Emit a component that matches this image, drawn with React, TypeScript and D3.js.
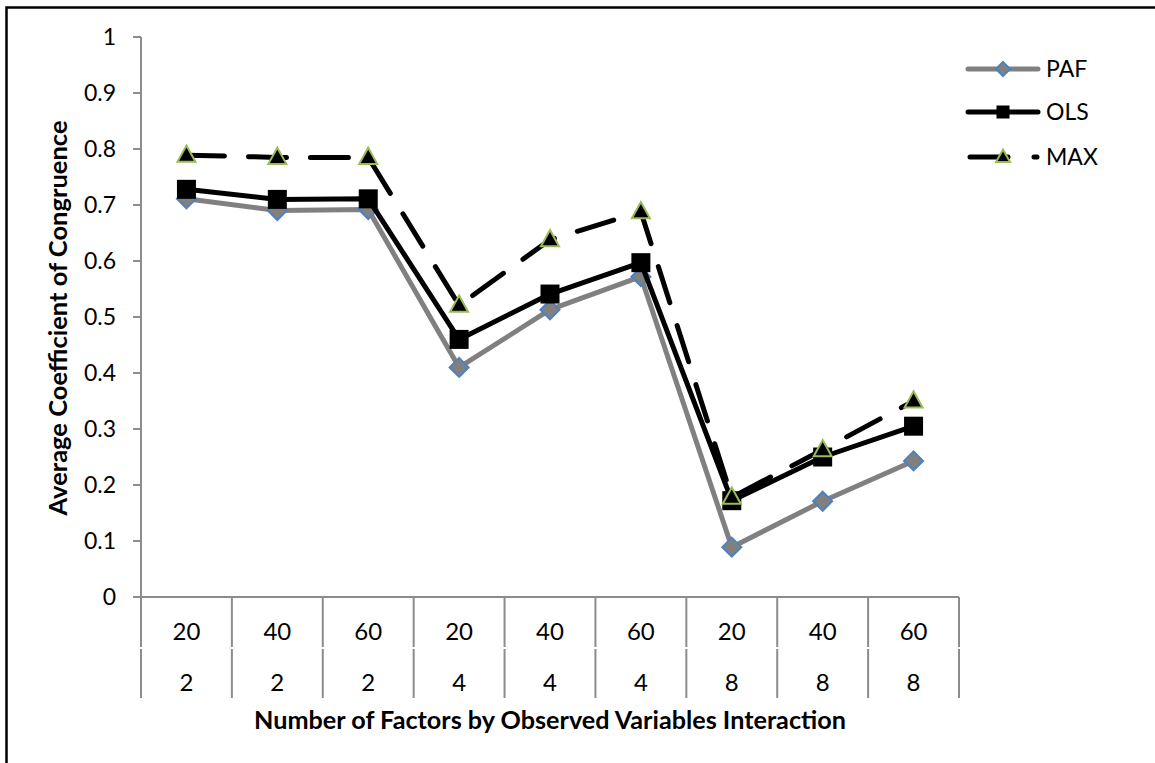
import React from "react";
import * as d3 from "d3";

const obsVars = ["20", "40", "60", "20", "40", "60", "20", "40", "60"];
const factors = ["2", "2", "2", "4", "4", "4", "8", "8", "8"];
const paf = [0.711, 0.69, 0.692, 0.41, 0.513, 0.572, 0.089, 0.171, 0.243];
const ols = [0.728, 0.71, 0.711, 0.46, 0.541, 0.597, 0.172, 0.25, 0.305];
const max = [0.789, 0.785, 0.785, 0.521, 0.638, 0.688, 0.178, 0.263, 0.35];
const yTicks = [0, 0.1, 0.2, 0.3, 0.4, 0.5, 0.6, 0.7, 0.8, 0.9, 1];
const seriesNames = ["PAF", "OLS", "MAX"];

const FONT = "Lato, Carlito, Calibri, sans-serif";
const GRAY_AXIS = "#8c8c8c";

function Diamond({ cx, cy, r }: { cx: number; cy: number; r: number }) {
  return (
    <path
      d={`M${cx},${cy - r}L${cx + r},${cy}L${cx},${cy + r}L${cx - r},${cy}Z`}
      fill="#808080"
      stroke="#4F81BD"
      strokeWidth={2}
    />
  );
}
function Square({ cx, cy, s }: { cx: number; cy: number; s: number }) {
  return <rect x={cx - s / 2} y={cy - s / 2} width={s} height={s} fill="#000" />;
}
function Triangle({ cx, cy, s }: { cx: number; cy: number; s: number }) {
  const h = s * 0.9;
  return (
    <path
      d={`M${cx},${cy - h * 0.6}L${cx + s / 2},${cy + h * 0.4}L${cx - s / 2},${cy + h * 0.4}Z`}
      fill="#000"
      stroke="#9BBB59"
      strokeWidth={2}
      strokeLinejoin="miter"
    />
  );
}

export default function App() {
  const W = 1155, H = 763;
  const x0 = 141, x1 = 959, yTop = 37, yBot = 597;
  const y = d3.scaleLinear().domain([0, 1]).range([yBot, yTop]);
  const x = d3.scaleBand<number>().domain(d3.range(obsVars.length)).range([x0, x1]).padding(0);
  const cx = (i: number) => (x(i) as number) + x.bandwidth() / 2;
  const line = d3.line<number>().x((_, i) => cx(i)).y((d) => y(d));

  const boundaries = d3.range(obsVars.length + 1).map((i) => x0 + i * x.bandwidth());

  const legendY = [69, 112, 157];
  const lx0 = 968, lx1 = 1038, lm = 1003, lt = 1046;

  return (
    <svg width={W} height={H} style={{ position: "absolute", left: 0, top: 0, background: "#fff" }}>
      <rect x={0} y={0} width={W} height={H} fill="#fff" />
      <rect x={6.5} y={7.5} width={W + 20} height={H + 20} fill="none" stroke="#000" strokeWidth={2.5} />

      {/* y axis */}
      <line x1={x0} x2={x0} y1={yTop} y2={yBot} stroke={GRAY_AXIS} strokeWidth={2} />
      {yTicks.map((t) => (
        <g key={t}>
          <line x1={x0 - 8} x2={x0} y1={y(t)} y2={y(t)} stroke={GRAY_AXIS} strokeWidth={2} />
          <text x={116} y={y(t) + 8} textAnchor="end" fontFamily={FONT} fontSize={23} fill="#000">
            {d3.format("")(t)}
          </text>
        </g>
      ))}

      {/* x axis */}
      <line x1={x0 - 8} x2={x1} y1={yBot} y2={yBot} stroke={GRAY_AXIS} strokeWidth={2} />
      {boundaries.map((b, i) => (
        <g key={i}>
          <line x1={b} x2={b} y1={yBot} y2={647} stroke={GRAY_AXIS} strokeWidth={2} />
          <line x1={b} x2={b} y1={649} y2={698} stroke={GRAY_AXIS} strokeWidth={2} />
        </g>
      ))}
      {obsVars.map((v, i) => (
        <text key={"o" + i} x={cx(i)} y={640} textAnchor="middle" fontFamily={FONT} fontSize={24} fill="#000">
          {v}
        </text>
      ))}
      {factors.map((v, i) => (
        <text key={"f" + i} x={cx(i)} y={691} textAnchor="middle" fontFamily={FONT} fontSize={24} fill="#000">
          {v}
        </text>
      ))}

      {/* axis titles */}
      <text x={550} y={729} textAnchor="middle" fontFamily={FONT} fontWeight="bold" fontSize={25.2} fill="#000">
        Number of Factors by Observed Variables Interaction
      </text>
      <text
        transform={`translate(67,318) rotate(-90)`}
        textAnchor="middle"
        fontFamily={FONT}
        fontWeight="bold"
        fontSize={25.5}
        fill="#000"
      >
        Average Coefficient of Congruence
      </text>

      {/* PAF */}
      <path d={line(paf) || ""} fill="none" stroke="#808080" strokeWidth={5} strokeLinejoin="round" />
      {paf.map((v, i) => <Diamond key={"p" + i} cx={cx(i)} cy={y(v)} r={9.5} />)}

      {/* OLS */}
      <path d={line(ols) || ""} fill="none" stroke="#000" strokeWidth={5} strokeLinejoin="round" />
      {ols.map((v, i) => <Square key={"s" + i} cx={cx(i)} cy={y(v)} s={19} />)}

      {/* MAX */}
      <path
        d={line(max) || ""}
        fill="none"
        stroke="#000"
        strokeWidth={5}
        strokeDasharray="38 24"
        strokeLinecap="round"
        strokeLinejoin="round"
      />
      {max.map((v, i) => <Triangle key={"t" + i} cx={cx(i)} cy={y(v)} s={18} />)}

      {/* legend */}
      <line x1={lx0} x2={lx1} y1={legendY[0]} y2={legendY[0]} stroke="#808080" strokeWidth={5} strokeLinecap="round" />
      <Diamond cx={lm} cy={legendY[0]} r={7} />
      <line x1={lx0} x2={lx1} y1={legendY[1]} y2={legendY[1]} stroke="#000" strokeWidth={5} strokeLinecap="round" />
      <Square cx={lm} cy={legendY[1]} s={13} />
      <line
        x1={lx0 + 2}
        x2={lx1 - 1}
        y1={legendY[2]}
        y2={legendY[2]}
        stroke="#000"
        strokeWidth={5}
        strokeLinecap="round"
        strokeDasharray="38 26"
      />
      <Triangle cx={lm} cy={legendY[2]} s={14} />
      {seriesNames.map((n, i) => (
        <text key={n} x={lt} y={legendY[i] + 8} fontFamily={FONT} fontSize={23} fill="#000">
          {n}
        </text>
      ))}
    </svg>
  );
}
